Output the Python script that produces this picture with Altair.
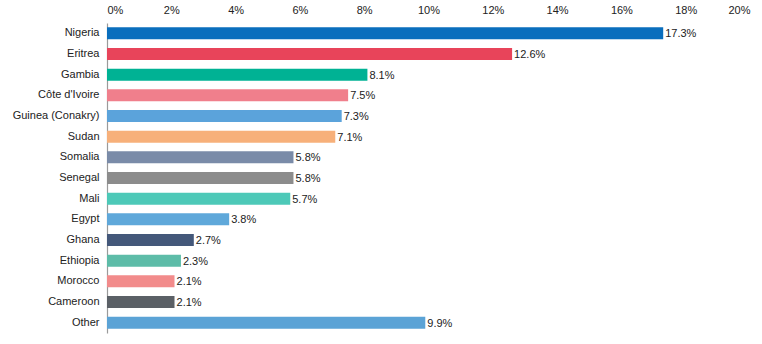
import altair as alt
import pandas as pd

countries = ["Nigeria", "Eritrea", "Gambia", "Côte d'Ivoire", "Guinea (Conakry)", "Sudan",
             "Somalia", "Senegal", "Mali", "Egypt", "Ghana", "Ethiopia", "Morocco",
             "Cameroon", "Other"]
shares = [17.3, 12.6, 8.1, 7.5, 7.3, 7.1, 5.8, 5.8, 5.7, 3.8, 2.7, 2.3, 2.1, 2.1, 9.9]
colors = ["#0a6ebd", "#e8445a", "#00b294", "#f07f8c", "#5ba3db", "#f7b07a",
          "#7a8ba8", "#8c8c8c", "#4dc9b8", "#5fa8da", "#44587a", "#5dbca8",
          "#f28b8b", "#5b6066", "#5ba3d6"]
x_ticks = [0, 2, 4, 6, 8, 10, 12, 14, 16, 18, 20]

df = pd.DataFrame({"country": countries, "share": shares, "color": colors,
                   "label": [f"{v:.1f}%" for v in shares]})

FONT = "Liberation Sans"

base = alt.Chart(df).encode(
    y=alt.Y("country:N", sort=countries, title=None,
            scale=alt.Scale(paddingInner=0.42, paddingOuter=0.21),
            axis=alt.Axis(ticks=False, labelPadding=8, labelFontSize=11,
                          labelColor="#222222", labelFont=FONT,
                          domainColor="#9a9a9a", domainWidth=1.2)),
)

bars = base.mark_bar().encode(
    x=alt.X("share:Q", title=None,
            scale=alt.Scale(domain=[0, 20], nice=False),
            axis=alt.Axis(orient="top", values=x_ticks, ticks=False, domain=False,
                          grid=False, labelPadding=8, labelFontSize=11,
                          labelColor="#222222", labelFont=FONT,
                          labelExpr="datum.value + '%'")),
    color=alt.Color("color:N", scale=None),
)

labels = base.mark_text(align="left", baseline="middle", dx=2, dy=1,
                        fontSize=11, font=FONT, color="#222222").encode(
    x="share:Q",
    text="label:N",
)

chart = (bars + labels).properties(
    width=643, height=310,
    autosize=alt.AutoSizeParams(type="none"),
    padding={"left": 107, "top": 23, "right": 12, "bottom": 11},
).configure(background="white").configure_view(stroke=None, strokeWidth=0)

chart.save("out.html", embed_options={"renderer": "svg", "actions": False})
